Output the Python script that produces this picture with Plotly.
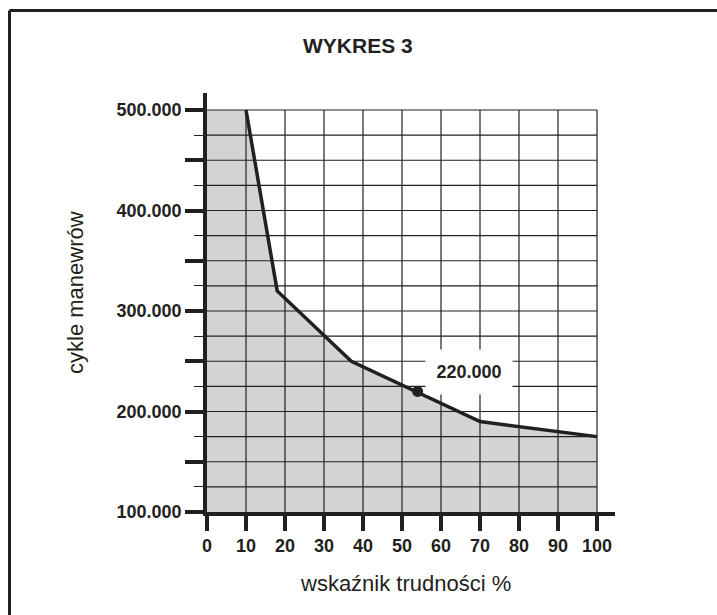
import plotly.graph_objects as go

# Durability curve: cycles of manoeuvres vs. difficulty index
difficulty = [10, 18, 37, 70, 100]
cycles = [500000, 320000, 250000, 190000, 175000]

# Shaded area under the curve (flat at the top between 0 and 10 %)
area_x = [0] + difficulty
area_y = [500000] + cycles

# Highlighted example point
point_x = [54]
point_y = [220000]
point_label = "220.000"

x_ticks = list(range(0, 101, 10))
y_major = list(range(100000, 500001, 50000))
y_labels = ["100.000", "", "200.000", "", "300.000", "", "400.000", "", "500.000"]
y_minor = list(range(125000, 500000, 50000))
grid_y = list(range(125000, 500001, 25000))
grid_x = list(range(10, 101, 10))

INK = "#231f20"
FILL = "#d1d3d4"
FONT = "Liberation Sans, Arial, Helvetica, sans-serif"

# plot area geometry (pixels) used for placing decorative items in paper units
L, R, T, B = 207, 615, 93, 512
W, H = 717, 615


def px(xp):
    return (xp - L) / (R - L)


def py(yp):
    return (B - yp) / (B - T)


fig = go.Figure()

fig.add_trace(go.Scatter(
    x=area_x, y=area_y, mode="lines", line=dict(width=0),
    fill="tozeroy", fillcolor=FILL, hoverinfo="skip", showlegend=False,
))

# grid restricted to the 0-100 % / 100k-500k box
gx, gy = [], []
for v in grid_y:
    gx += [0, 100, None]
    gy += [v, v, None]
for v in grid_x:
    gx += [v, v, None]
    gy += [100000, 500000, None]
fig.add_trace(go.Scatter(
    x=gx, y=gy, mode="lines", line=dict(color=INK, width=1.2),
    hoverinfo="skip", showlegend=False,
))

fig.add_trace(go.Scatter(
    x=difficulty, y=cycles, mode="lines",
    line=dict(color=INK, width=3.5), showlegend=False,
))

fig.add_trace(go.Scatter(
    x=point_x, y=point_y, mode="markers",
    marker=dict(color=INK, size=11), showlegend=False,
))

fig.add_annotation(
    x=point_x[0], y=point_y[0], text="<b>%s</b>" % point_label,
    showarrow=False, xanchor="left", yanchor="bottom",
    xshift=7, yshift=-4, width=84, height=42,
    bgcolor="white", font=dict(family=FONT, size=18, color=INK),
)

title_font = dict(family=FONT, size=21, color=INK)
axis_title_font = dict(family=FONT, size=22, color=INK)
fig.add_annotation(
    x=px(358), y=py(45), xref="paper", yref="paper",
    xanchor="center", yanchor="middle",
    text="<b>WYKRES 3</b>", showarrow=False, font=title_font,
)
fig.add_annotation(
    x=px(405), y=py(583), xref="paper", yref="paper",
    xanchor="center", yanchor="middle",
    text="wskaźnik trudności %", showarrow=False, font=axis_title_font,
)
fig.add_annotation(
    x=px(75), y=py(293), xref="paper", yref="paper",
    xanchor="center", yanchor="middle",
    text="cykle manewrów", showarrow=False, textangle=-90, font=axis_title_font,
)

# outer frame (left and top edges)
fig.add_shape(type="line", xref="paper", yref="paper",
              x0=px(9.5), y0=py(10.5), x1=px(W + 5), y1=py(10.5),
              line=dict(color=INK, width=3))
fig.add_shape(type="line", xref="paper", yref="paper",
              x0=px(9.5), y0=py(10.5), x1=px(9.5), y1=py(H + 5),
              line=dict(color=INK, width=3))

fig.update_xaxes(
    range=[0, (R - L) / 3.9], showgrid=False, zeroline=False,
    showline=True, linecolor=INK, linewidth=3.5,
    tickmode="array", tickvals=x_ticks, ticktext=[str(v) for v in x_ticks],
    ticks="outside", ticklen=15, tickwidth=3.5, tickcolor=INK,
    tickfont=dict(family=FONT, size=18, color=INK, weight="bold"),
)
fig.update_yaxes(
    range=[100000, 500000 + (110 - T) / 1.005 * 1000], showgrid=False, zeroline=False,
    showline=True, linecolor=INK, linewidth=3.5,
    tickmode="array", tickvals=y_major, ticktext=y_labels,
    ticks="outside", ticklen=18, tickwidth=3.5, tickcolor=INK,
    tickfont=dict(family=FONT, size=18, color=INK, weight="bold"),
    minor=dict(tickmode="array", tickvals=y_minor, ticks="outside",
               ticklen=9, tickwidth=1.2, tickcolor=INK, showgrid=False),
)

fig.update_layout(
    width=W, height=H, autosize=False,
    margin=dict(l=L, r=W - R, t=T, b=H - B),
    paper_bgcolor="white", plot_bgcolor="white",
    showlegend=False,
)

fig.write_html("out.html")
